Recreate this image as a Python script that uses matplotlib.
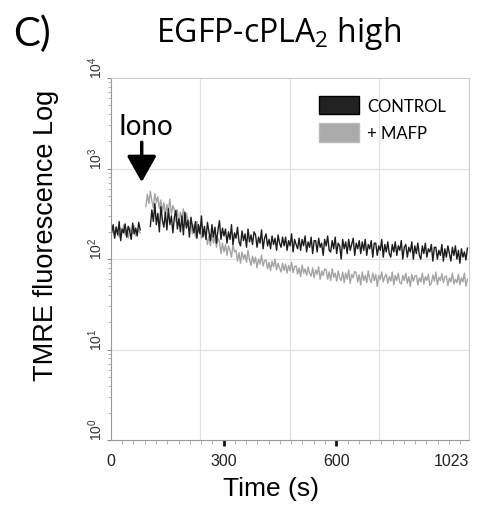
import numpy as np
import matplotlib
matplotlib.use("Agg")
import matplotlib.pyplot as plt
from matplotlib.patches import Patch
from matplotlib.ticker import LogLocator, MultipleLocator, NullFormatter, FixedLocator

plt.rcParams['font.family'] = ['Liberation Sans', 'DejaVu Sans']
plt.rcParams['mathtext.fontset'] = 'custom'
plt.rcParams['mathtext.rm'] = 'Liberation Sans'

# ---- data ----
# time in seconds, sampled every 4 s
t_pre = np.arange(2, 79, 4)
control_pre = [200, 240, 170, 225, 185, 260, 160, 215, 195, 245,
               175, 230, 205, 165, 250, 190, 220, 180, 255, 210]
mafp_pre = [190, 215, 180, 230, 200, 175, 220, 195, 240, 185,
            210, 170, 225, 200, 190, 235, 180, 215, 205, 195]

t_control = np.arange(105, 952, 4)
control = [
    230, 350, 260, 410, 240, 320, 200, 380, 270, 225,
    330, 210, 360, 240, 300, 195, 290, 345, 215, 280,
    200, 300, 185, 330, 220, 270, 175, 290, 230, 195,
    260, 170, 240, 190, 300, 175, 230, 165, 255, 200,
    160, 240, 175, 225, 150, 210, 265, 165, 220, 180,
    215, 150, 200, 165, 240, 145, 195, 170, 225, 155,
    140, 205, 160, 190, 135, 215, 155, 185, 145, 200,
    185, 135, 175, 150, 210, 130, 170, 190, 140, 165,
    130, 180, 145, 170, 125, 185, 150, 135, 175, 140,
    175, 125, 160, 140, 190, 120, 165, 145, 130, 170,
    125, 165, 140, 180, 120, 155, 135, 175, 115, 160,
    160, 120, 170, 135, 150, 110, 165, 140, 180, 125,
    120, 160, 130, 175, 115, 150, 140, 100, 165, 130,
    155, 115, 165, 125, 145, 170, 110, 150, 130, 160,
    115, 155, 125, 165, 110, 145, 130, 160, 105, 150,
    150, 110, 140, 125, 165, 105, 145, 120, 155, 115,
    105, 145, 120, 155, 110, 140, 125, 160, 100, 135,
    145, 105, 135, 120, 155, 100, 140, 115, 150, 110,
    100, 140, 115, 150, 105, 130, 120, 145, 95, 135,
    135, 100, 125, 110, 145, 95, 130, 105, 140, 115,
    95, 135, 110, 140, 100, 125, 90, 130, 105, 120,
    98, 132,
]

t_mafp = np.arange(93, 952, 4)
mafp = [
    380, 520, 410, 560, 440, 370, 530, 420, 490, 360,
    450, 330, 420, 300, 400, 340, 460, 310, 390, 350,
    260, 350, 240, 330, 280, 360, 230, 320, 270, 250,
    250, 190, 240, 175, 260, 200, 230, 170, 215, 185,
    190, 145, 180, 140, 195, 150, 175, 135, 170, 155,
    115, 150, 120, 145, 110, 140, 125, 105, 145, 120,
    125, 95, 118, 90, 120, 100, 112, 92, 125, 98,
    85, 108, 90, 105, 80, 100, 88, 110, 84, 96,
    98, 78, 92, 75, 95, 82, 100, 76, 90, 80,
    72, 90, 75, 88, 70, 85, 74, 92, 71, 83,
    84, 68, 80, 64, 86, 70, 78, 66, 82, 69,
    65, 80, 62, 76, 68, 82, 60, 74, 66, 78,
    76, 60, 72, 58, 78, 63, 70, 57, 74, 62,
    58, 72, 55, 70, 60, 76, 54, 68, 62, 73,
    70, 56, 67, 52, 72, 58, 66, 55, 74, 60,
    55, 70, 58, 68, 50, 66, 60, 72, 56, 64,
    68, 54, 64, 57, 72, 52, 66, 58, 70, 55,
    53, 66, 58, 70, 54, 64, 50, 68, 57, 65,
    66, 52, 62, 56, 70, 53, 64, 58, 68, 51,
    54, 67, 57, 72, 52, 63, 58, 69, 55, 64,
    65, 51, 62, 56, 70, 53, 60, 55, 68, 52,
    62, 56, 70, 50, 60,
]

t_end = 953
xtick_pos = [0, 300, 600, t_end]
xtick_labels = ['0', '300', '600', '1023']
series_labels = ['CONTROL', '+ MAFP']
black = '#1c1c1c'
grey = '#a4a4a4'

fig = plt.figure(figsize=(4.78, 5.10), dpi=100)
ax = fig.add_axes([0.232, 0.135, 0.749, 0.710])

# grid
for g in [t_end * 0.25, t_end * 0.5, t_end * 0.75]:
    ax.axvline(g, color='#e2e2e2', lw=0.9, zorder=0)
for g in [10, 100, 1000]:
    ax.axhline(g, color='#e2e2e2', lw=0.9, zorder=0)

# traces
ax.plot(t_pre, mafp_pre, color=grey, lw=1.0)
ax.plot(t_mafp, mafp, color=grey, lw=1.0)
ax.plot(t_pre, control_pre, color=black, lw=1.0)
ax.plot(t_control, control, color=black, lw=1.0)

ax.set_yscale('log')
ax.set_ylim(1, 1e4)
ax.set_xlim(0, t_end)

# y ticks
ax.yaxis.set_major_locator(FixedLocator([1, 10, 100, 1000, 10000]))
ax.yaxis.set_minor_locator(LogLocator(base=10, subs=np.arange(2, 10)))
ax.yaxis.set_minor_formatter(NullFormatter())
ax.set_yticklabels([r'$\mathregular{10^{%d}}$' % i for i in range(5)])
for lab in ax.get_yticklabels():
    lab.set_rotation(90)
    lab.set_va('bottom')
    lab.set_ha('right')
    lab.set_fontsize(10)
    lab.set_color('#333333')
ax.tick_params(axis='y', which='major', length=3, width=0.8, color='#888888', pad=1)
ax.tick_params(axis='y', which='minor', length=2, width=0.6, color='#aaaaaa')

# x ticks
ax.set_xticks(xtick_pos)
ax.set_xticklabels(xtick_labels, fontsize=11.5, color='#222222')
ax.get_xticklabels()[-1].set_ha('right')
ax.xaxis.set_minor_locator(MultipleLocator(30))
ax.tick_params(axis='x', which='major', length=4, width=2, color='#111111', pad=5)
ax.tick_params(axis='x', which='minor', length=3, width=0.6, color='#aaaaaa')
xt = ax.xaxis.get_major_ticks()
for i in (0, -1):
    xt[i].tick1line.set_visible(False)

for s in ['top', 'right']:
    ax.spines[s].set_color('#cccccc')
for s in ['left', 'bottom']:
    ax.spines[s].set_color('#999999')
for s in ax.spines.values():
    s.set_linewidth(0.8)

ax.set_xlabel('Time (s)', fontsize=19)
ax.xaxis.set_label_coords(0.447, -0.100)
ax.set_ylabel('TMRE fluorescence Log', fontsize=19.5)
ax.yaxis.set_label_coords(-0.145, 0.569)

# legend
handles = [Patch(facecolor='#222222', edgecolor='#000000'),
           Patch(facecolor='#aaaaaa', edgecolor='#bbbbbb')]
leg = ax.legend(handles, series_labels, loc='upper left',
                bbox_to_anchor=(0.581, 0.950), frameon=False,
                handlelength=2.4, handleheight=1.3, handletextpad=0.5,
                labelspacing=0.55, borderpad=0, borderaxespad=0,
                prop={'family': 'Lato', 'size': 12})

# iono arrow
ax.annotate('', xy=(82, 708), xytext=(82, 1950),
            arrowprops=dict(arrowstyle='-|>,head_width=0.9,head_length=1.6',
                            color='black', lw=2.5, shrinkA=0, shrinkB=0))
ax.text(20, 2400, 'Iono', fontsize=20, family='Lato', ha='left', va='baseline')

fig.text(0.582, 0.935, r'EGFP-cPLA$_\mathregular{2}$ high', fontsize=23,
         family='Open Sans', ha='center', va='center')
fig.text(0.027, 0.933, 'C)', fontsize=29, family='Lato', ha='left', va='center')

fig.savefig('out.png', dpi=100)
